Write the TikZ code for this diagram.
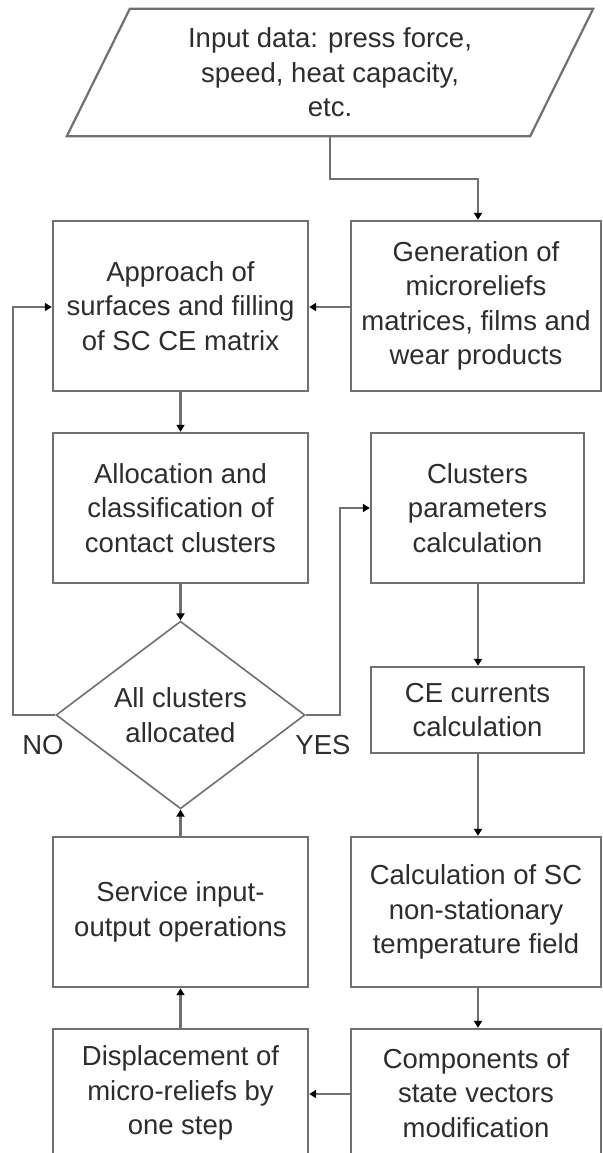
\documentclass[tikz,border=0pt]{standalone}
\usepackage{fontspec}
\setmainfont{Liberation Sans}
\usetikzlibrary{arrows.meta,shapes.geometric}
\definecolor{edgegray}{RGB}{112,112,112}
\definecolor{txtgray}{RGB}{45,45,45}
\tikzset{
  procbox/.style={draw=edgegray, line width=2.4pt, rectangle, inner sep=0pt, align=center, text=txtgray,
    font=\fontsize{27.5}{34.5}\selectfont},
  decbox/.style={draw=edgegray, line width=1.6pt, diamond, inner sep=0pt, align=center, text=txtgray,
    font=\fontsize{27.5}{34.5}\selectfont, minimum width=249pt, minimum height=176pt},
  conn/.style={draw=edgegray, line width=2.2pt, -{Triangle[length=7pt,width=8pt,color=black]}},
  lbl/.style={text=txtgray, font=\fontsize{27.5}{34.5}\selectfont, inner sep=0pt}
}
\begin{document}
\begin{tikzpicture}[x=1pt,y=-1pt]
\useasboundingbox (0,0) rectangle (602,1153);
\fill[white] (0,0) rectangle (602,1153);
% input parallelogram
\node[align=center, text=txtgray, font=\fontsize{27.5}{34.5}\selectfont, inner sep=0pt,
      minimum width=463pt, minimum height=127pt] (input) at (330,72.5)
  {Input data: press force,\\speed, heat capacity,\\etc.};
\draw[edgegray, line width=2.2pt, line join=miter]
  ([xshift=-31.5pt]input.south west) -- ([xshift=31.5pt]input.north west)
  -- ([xshift=31.5pt]input.north east) -- ([xshift=-31.5pt]input.south east) -- cycle;
% boxes
\node[procbox, minimum width=255pt, minimum height=170pt] (approach) at (180.5,306)
  {Approach of\\surfaces and filling\\of SC CE matrix};
\node[procbox, minimum width=250pt, minimum height=170pt] (gen) at (476,306)
  {Generation of\\microreliefs\\matrices, films and\\wear products};
\node[procbox, minimum width=255pt, minimum height=150pt] (alloc) at (180.5,508)
  {Allocation and\\classification of\\contact clusters};
\node[procbox, minimum width=213pt, minimum height=150pt] (clpar) at (477.5,508)
  {Clusters\\parameters\\calculation};
\node[decbox] (dec) at (180.5,715) {All clusters\\allocated};
\node[procbox, minimum width=213pt, minimum height=86pt] (ce) at (477.5,710)
  {CE currents\\calculation};
\node[procbox, minimum width=255pt, minimum height=150pt] (serv) at (180.5,912)
  {Service input-\\output operations};
\node[procbox, minimum width=250pt, minimum height=150pt] (calc) at (476,912)
  {Calculation of SC\\non-stationary\\temperature field};
\node[procbox, minimum width=255pt, minimum height=128pt] (disp) at (180.5,1093)
  {Displacement of\\micro-reliefs by\\one step};
\node[procbox, minimum width=250pt, minimum height=128pt] (comp) at (476,1093)
  {Components of\\state vectors\\modification};
% labels
\node[lbl] (nolbl) at (43,745) {NO};
\node[lbl] (yeslbl) at (323,745) {YES};
% connectors
\coordinate (c1) at (330,179);
\coordinate (c2) at (478,179);
\draw[conn] (input.south) -- (c1) -- (c2) -- (c2 |- gen.north);
\draw[conn] (gen.west |- 0,307) -- (approach.east |- 0,307);
\draw[conn] (approach.south) -- (alloc.north);
\draw[conn] (alloc.south) -- (dec.north);
\coordinate (nl) at (13,715);
\coordinate (nu) at (13,307);
\draw[conn] (dec.west) -- (nl) -- (nu) -- (approach.west |- nu);
\coordinate (yl) at (340,715);
\coordinate (yu) at (340,508);
\draw[conn] (dec.east) -- (yl) -- (yu) -- (clpar.west);
\draw[conn] (clpar.south -| 478,0) -- (ce.north -| 478,0);
\draw[conn] (ce.south -| 478,0) -- (calc.north -| 478,0);
\draw[conn] (calc.south -| 478,0) -- (comp.north -| 478,0);
\draw[conn] (comp.west |- 0,1094) -- (disp.east |- 0,1094);
\draw[conn] (disp.north) -- (serv.south);
\draw[conn] (serv.north) -- (dec.south);
\end{tikzpicture}
\end{document}
